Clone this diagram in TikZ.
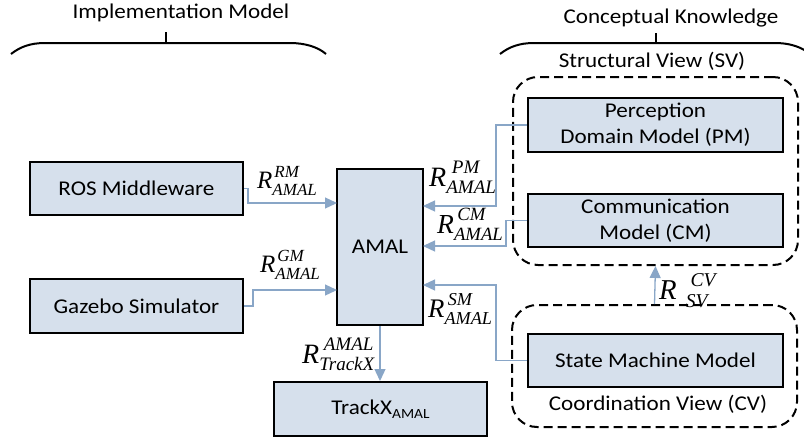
\documentclass[tikz,border=0pt]{standalone}
\usepackage{fontspec}
\usepackage{graphicx}
\setmainfont{Carlito}[FakeStretch=1.1]
\newfontfamily\tms{Liberation Serif}
\usetikzlibrary{arrows.meta}
\definecolor{boxfill}{RGB}{214,224,236}
\definecolor{connc}{RGB}{137,166,199}
\newcommand\Rlab[5]{\scalebox{#1}{\tms\itshape\fontsize{25}{25}\selectfont R\rlap{\kern#2\raisebox{11pt}{\fontsize{17}{17}\selectfont #3}}\raisebox{-7pt}{\kern#4\fontsize{17}{17}\selectfont #5}}}
\tikzset{
  box/.style={draw=black, line width=2pt, fill=boxfill, inner sep=0pt, align=center,
    font=\fontsize{21}{26}\selectfont},
  dbox/.style={draw=black, line width=2pt, dash pattern=on 9pt off 5pt, rounded corners=25pt, inner sep=0pt},
  conn/.style={draw=connc, line width=1.3pt, -{Triangle[length=12pt,width=11pt]}},
  brace/.style={draw=black, line width=2pt},
  head/.style={font=\fontsize{21}{24}\selectfont, inner sep=0pt},
  rl/.style={anchor=base west, inner sep=0pt}
}
\begin{document}
\begin{tikzpicture}[x=1pt,y=-1pt]
\useasboundingbox (0,0) rectangle (804,440);
% headers and braces
\node[head] (imh) at (181,13) {Implementation Model};
\node[head] (ckh) at (671,18) {Conceptual Knowledge};
\draw[brace] (11,54) .. controls (20,47) and (30,43) .. (45,43) -- (290,43) .. controls (305,43) and (318,47) .. (326,54);
\draw[brace] (166,43) -- (166,32);
\draw[brace] (500,54) .. controls (509,47) and (519,43) .. (534,43) -- (775,43) .. controls (788,43) and (798,46) .. (806,51);
\draw[brace] (656,43) -- (656,33);
% dashed groups
\node[dbox, minimum width=285pt, minimum height=188pt] (sv) at (655.5,171) {};
\node[dbox, minimum width=285pt, minimum height=122pt] (cv) at (654.5,366) {};
\node[head] (svl) at (652,61) {Structural View (SV)};
\node[head] (cvl) at (658,404) {Coordination View (CV)};
% boxes
\node[box, minimum width=213pt, minimum height=53pt] (ros) at (136.5,188.5) {ROS Middleware};
\node[box, minimum width=213pt, minimum height=54pt] (gaz) at (136.5,306) {Gazebo Simulator};
\node[box, minimum width=86pt, minimum height=156pt] (amal) at (380,247) {AMAL};
\node[box, minimum width=213pt, minimum height=54pt] (trackx) at (380.5,409) {TrackX{\fontsize{14}{14}\selectfont\raisebox{-4pt}{AMAL}}};
\node[box, minimum width=255pt, minimum height=54pt] (pm) at (655.5,125) {Perception\\Domain Model (PM)};
\node[box, minimum width=255pt, minimum height=53pt] (cm) at (655.5,220.5) {Communication\\Model (CM)};
\node[box, minimum width=255pt, minimum height=53pt] (smm) at (655.5,360.5) {State Machine Model};
% arrow end points on AMAL
\coordinate (aRM) at (337,203);
\coordinate (aGM) at (337,290);
\coordinate (aPM) at (423,206);
\coordinate (aCM) at (423,246);
\coordinate (aSM) at (423,285);
% connectors
\draw[conn] (ros.east) -- ++(4,0) |- (aRM);
\draw[conn] (gaz.east) -- ++(9,0) |- (aGM);
\draw[conn] (pm.west) -- ++(-31,0) |- (aPM);
\draw[conn] (cm.west) -- ++(-21,0) |- (aCM);
\draw[conn] (smm.west) -- ++(-31,0) |- (aSM);
\draw[conn] (amal.south) -- (amal.south |- trackx.north);
\draw[conn] (cv.north) -- (sv.south);
% labels
\node[rl] (lrm) at (257,188) {\Rlab{1}{2pt}{RM}{0pt}{AMAL}};
\node[rl] (lgm) at (260,272) {\Rlab{1}{2pt}{GM}{0pt}{AMAL}};
\node[rl] (lpm) at (429,186) {\Rlab{1.12}{5pt}{PM}{0pt}{AMAL}};
\node[rl] (lcm) at (437,233) {\Rlab{1.1}{3pt}{CM}{0pt}{AMAL}};
\node[rl] (lsm) at (428,317) {\Rlab{1.07}{3pt}{SM}{0pt}{AMAL}};
\node[rl] (ltx) at (302,363) {\Rlab{1.12}{4pt}{AMAL}{0pt}{TrackX}};
\node[rl] (lsv) at (659,299) {\Rlab{1.15}{12pt}{CV}{8pt}{SV}};
\end{tikzpicture}
\end{document}
